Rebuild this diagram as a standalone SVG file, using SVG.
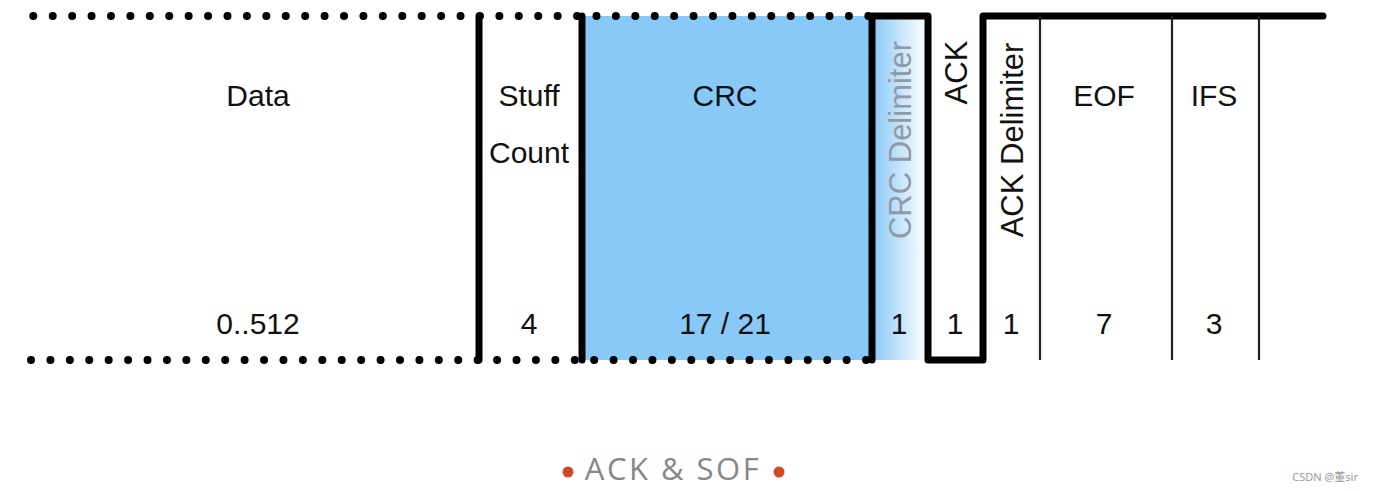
<svg xmlns="http://www.w3.org/2000/svg" width="1375" height="491" viewBox="0 0 1375 491">
<defs>
<linearGradient id="delim" x1="0" y1="0" x2="1" y2="0">
<stop offset="0" stop-color="#89c9f8"/>
<stop offset="1" stop-color="#ffffff"/>
</linearGradient>
<style>
.lbl{font-family:"Liberation Sans",Arial,sans-serif;font-size:30px;fill:#111;text-anchor:middle}
.vl{font-family:"Liberation Sans",Arial,sans-serif;font-size:31px;fill:#111}
.dot{stroke:#000;stroke-width:8;stroke-linecap:round;stroke-dasharray:0 19.42;fill:none}
.thick{stroke:#000;stroke-width:7;stroke-linecap:round;stroke-linejoin:round;fill:none}
.thin{stroke:#222;stroke-width:2.2;fill:none}
</style>
</defs>
<rect width="1375" height="491" fill="#fff"/>
<g id="fills">
<rect x="582" y="16" width="290" height="344" fill="#89c9f8"/>
<rect x="872" y="19" width="55" height="341" fill="url(#delim)"/>
</g>
<g id="connectors">
<line class="dot" x1="33.3" y1="16" x2="870" y2="16"/>
<line class="dot" x1="31" y1="360" x2="870" y2="360"/>
<line class="thick" x1="479" y1="16" x2="479" y2="360"/>
<line class="thick" x1="582" y1="16" x2="582" y2="360"/>
<polyline class="thick" points="872,360 872,16 928,16 928,360 983,360 983,16 1323,16"/>
<line class="thin" x1="1040" y1="16" x2="1040" y2="360"/>
<line class="thin" x1="1172" y1="16" x2="1172" y2="360"/>
<line class="thin" x1="1259" y1="16" x2="1259" y2="360"/>
</g>
<g id="data"><text class="lbl" x="258" y="106">Data</text><text class="lbl" x="258" y="334">0..512</text></g>
<g id="stuff"><text class="lbl" x="529" y="106">Stuff</text><text class="lbl" x="529" y="163">Count</text><text class="lbl" x="529" y="334">4</text></g>
<g id="crc"><text class="lbl" x="725" y="106">CRC</text><text class="lbl" x="725" y="334">17 / 21</text></g>
<g id="crcdelim"><text class="vl" transform="translate(911,140) rotate(-90)" text-anchor="middle" style="fill:#8e9ba6">CRC Delimiter</text><text class="lbl" x="899" y="334">1</text></g>
<g id="ack"><text class="vl" transform="translate(967,72.5) rotate(-90)" text-anchor="middle">ACK</text><text class="lbl" x="955" y="334">1</text></g>
<g id="ackdelim"><text class="vl" transform="translate(1023,140) rotate(-90)" text-anchor="middle">ACK Delimiter</text><text class="lbl" x="1011" y="334">1</text></g>
<g id="eof"><text class="lbl" x="1104" y="106">EOF</text><text class="lbl" x="1104" y="334">7</text></g>
<g id="ifs"><text class="lbl" x="1214" y="106">IFS</text><text class="lbl" x="1214" y="334">3</text></g>
<g id="caption">
<circle cx="568" cy="472" r="5.5" fill="#d24a24"/>
<text x="673" y="480" text-anchor="middle" font-family="'Open Sans',sans-serif" font-size="31" letter-spacing="2.5" fill="#878787">ACK &amp; SOF</text>
<circle cx="779" cy="472" r="5.5" fill="#d24a24"/>
</g>
<g id="watermark"><text x="1358" y="481" text-anchor="end" font-family="'Noto Sans','Noto Sans CJK SC',sans-serif" font-size="11" fill="#999">CSDN @董sir</text></g>
</svg>
